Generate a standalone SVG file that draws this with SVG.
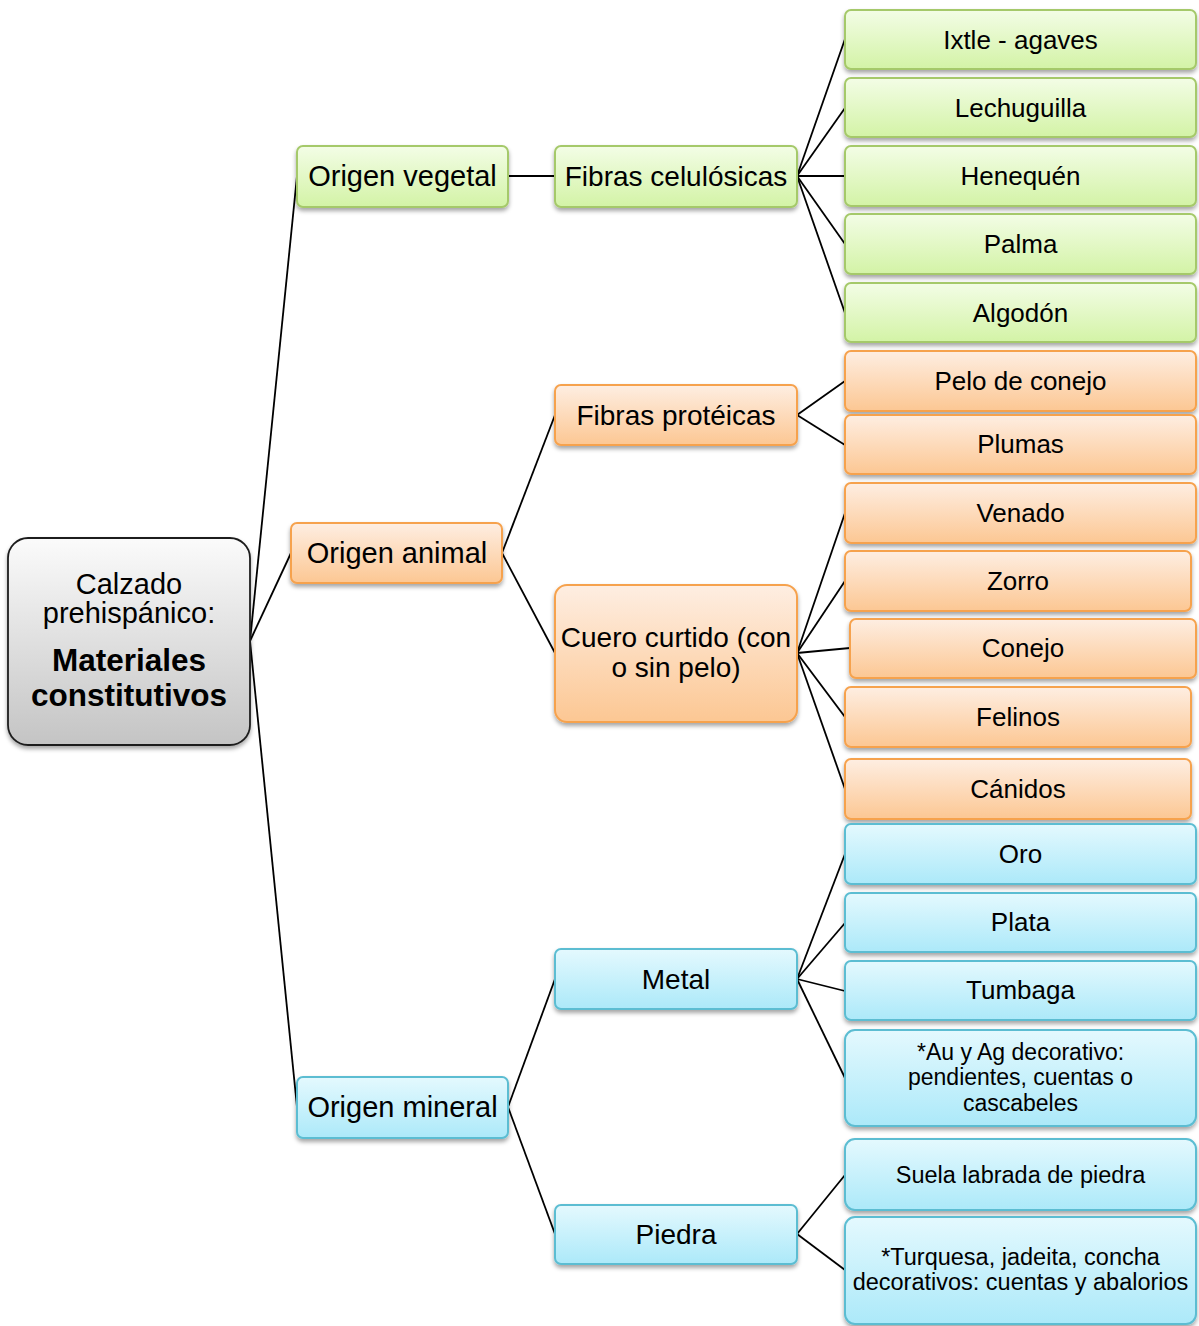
<svg xmlns="http://www.w3.org/2000/svg" width="1199" height="1326" viewBox="0 0 1199 1326">
<defs>
<linearGradient id="gG" x1="0" y1="0" x2="0" y2="1"><stop offset="0" stop-color="#f3fde6"/><stop offset="1" stop-color="#d3f3a6"/></linearGradient>
<linearGradient id="gO" x1="0" y1="0" x2="0" y2="1"><stop offset="0" stop-color="#feeee2"/><stop offset="1" stop-color="#fcc793"/></linearGradient>
<linearGradient id="gB" x1="0" y1="0" x2="0" y2="1"><stop offset="0" stop-color="#e4f9fe"/><stop offset="1" stop-color="#ace9f9"/></linearGradient>
<linearGradient id="gR" x1="0" y1="0" x2="0" y2="1"><stop offset="0" stop-color="#fbfbfb"/><stop offset="1" stop-color="#c4c4c4"/></linearGradient>
<filter id="sh" x="-10%" y="-20%" width="120%" height="150%"><feDropShadow dx="0" dy="3" stdDeviation="2" flood-color="#000" flood-opacity="0.35"/></filter>
</defs>
<style>
text{font-family:"Liberation Sans",Arial,sans-serif;fill:#000;text-anchor:middle}
.g{fill:url(#gG);stroke:#a5c96a;stroke-width:2;filter:url(#sh)}
.o{fill:url(#gO);stroke:#f6a24e;stroke-width:2;filter:url(#sh)}
.b{fill:url(#gB);stroke:#5bbdd2;stroke-width:2;filter:url(#sh)}
.r{fill:url(#gR);stroke:#1e1e1e;stroke-width:1.8;filter:url(#sh)}
.l1{font-size:29px}.l2{font-size:28px}.l3{font-size:26px}.l4{font-size:23.5px}
.cn line{stroke:#000;stroke-width:1.8}
</style>
<g class="cn" id="connectors">
<line x1="250" y1="641" x2="297" y2="176"/>
<line x1="250" y1="641" x2="291" y2="553"/>
<line x1="250" y1="641" x2="297" y2="1107"/>
<line x1="508" y1="176" x2="555" y2="176"/>
<line x1="797" y1="176" x2="845" y2="39"/>
<line x1="797" y1="176" x2="845" y2="108"/>
<line x1="797" y1="176" x2="845" y2="176"/>
<line x1="797" y1="176" x2="845" y2="244"/>
<line x1="797" y1="176" x2="845" y2="313"/>
<line x1="502" y1="553" x2="555" y2="415"/>
<line x1="502" y1="553" x2="555" y2="653"/>
<line x1="797" y1="415" x2="845" y2="381"/>
<line x1="797" y1="415" x2="845" y2="445"/>
<line x1="797" y1="653" x2="845" y2="513"/>
<line x1="797" y1="653" x2="845" y2="581"/>
<line x1="797" y1="653" x2="850" y2="648"/>
<line x1="797" y1="653" x2="845" y2="717"/>
<line x1="797" y1="653" x2="845" y2="789"/>
<line x1="508" y1="1107" x2="555" y2="979"/>
<line x1="508" y1="1107" x2="555" y2="1234"/>
<line x1="797" y1="979" x2="845" y2="854"/>
<line x1="797" y1="979" x2="845" y2="923"/>
<line x1="797" y1="979" x2="845" y2="991"/>
<line x1="797" y1="979" x2="845" y2="1078"/>
<line x1="797" y1="1234" x2="845" y2="1175"/>
<line x1="797" y1="1234" x2="845" y2="1270"/>
</g>
<g id="root"><rect class="r" x="8" y="538" width="242" height="207" rx="20"/>
<text x="129" y="594" font-size="29px">Calzado</text>
<text x="129" y="623" font-size="29px">prehispánico:</text>
<text x="129" y="671" font-size="31.5px" font-weight="bold">Materiales</text>
<text x="129" y="706" font-size="31.5px" font-weight="bold">constitutivos</text></g>
<g id="origen-vegetal"><rect class="g" x="297" y="146" width="211" height="61" rx="6"/><text class="l1" x="402.5" y="186">Origen vegetal</text></g>
<g id="origen-animal"><rect class="o" x="291" y="523" width="211" height="60" rx="6"/><text class="l1" x="397" y="563">Origen animal</text></g>
<g id="origen-mineral"><rect class="b" x="297" y="1077" width="211" height="61" rx="6"/><text class="l1" x="402.5" y="1117">Origen mineral</text></g>
<g id="fibras-celulosicas"><rect class="g" x="555" y="146" width="242" height="61" rx="6"/><text class="l2" x="676" y="186">Fibras celulósicas</text></g>
<g id="fibras-proteicas"><rect class="o" x="555" y="385" width="242" height="60" rx="6"/><text class="l2" x="676" y="424.5">Fibras protéicas</text></g>
<g id="cuero-curtido"><rect class="o" x="555" y="585" width="242" height="137" rx="12"/><text class="l2" x="676" y="647">Cuero curtido (con</text><text class="l2" x="676" y="677">o sin pelo)</text></g>
<g id="metal"><rect class="b" x="555" y="949" width="242" height="60" rx="6"/><text class="l2" x="676" y="988.5">Metal</text></g>
<g id="piedra"><rect class="b" x="555" y="1205" width="242" height="59" rx="6"/><text class="l2" x="676" y="1244">Piedra</text></g>
<g id="ixtle"><rect class="g" x="845" y="10" width="351" height="59" rx="6"/><text class="l3" x="1020.5" y="48.5">Ixtle - agaves</text></g>
<g id="lechuguilla"><rect class="g" x="845" y="78" width="351" height="59" rx="6"/><text class="l3" x="1020.5" y="116.5">Lechuguilla</text></g>
<g id="henequen"><rect class="g" x="845" y="146" width="351" height="60" rx="6"/><text class="l3" x="1020.5" y="184.5">Henequén</text></g>
<g id="palma"><rect class="g" x="845" y="214" width="351" height="60" rx="6"/><text class="l3" x="1020.5" y="252.5">Palma</text></g>
<g id="algodon"><rect class="g" x="845" y="283" width="351" height="59" rx="6"/><text class="l3" x="1020.5" y="321.5">Algodón</text></g>
<g id="pelo-conejo"><rect class="o" x="845" y="351" width="351" height="60" rx="6"/><text class="l3" x="1020.5" y="389.5">Pelo de conejo</text></g>
<g id="plumas"><rect class="o" x="845" y="415" width="351" height="59" rx="6"/><text class="l3" x="1020.5" y="453">Plumas</text></g>
<g id="venado"><rect class="o" x="845" y="483" width="351" height="60" rx="6"/><text class="l3" x="1020.5" y="521.5">Venado</text></g>
<g id="zorro"><rect class="o" x="845" y="551" width="346" height="60" rx="6"/><text class="l3" x="1018" y="589.5">Zorro</text></g>
<g id="conejo"><rect class="o" x="850" y="619" width="346" height="59" rx="6"/><text class="l3" x="1023" y="657">Conejo</text></g>
<g id="felinos"><rect class="o" x="845" y="687" width="346" height="60" rx="6"/><text class="l3" x="1018" y="725.5">Felinos</text></g>
<g id="canidos"><rect class="o" x="845" y="759" width="346" height="60" rx="6"/><text class="l3" x="1018" y="797.5">Cánidos</text></g>
<g id="oro"><rect class="b" x="845" y="824" width="351" height="60" rx="6"/><text class="l3" x="1020.5" y="862.5">Oro</text></g>
<g id="plata"><rect class="b" x="845" y="893" width="351" height="59" rx="6"/><text class="l3" x="1020.5" y="931">Plata</text></g>
<g id="tumbaga"><rect class="b" x="845" y="961" width="351" height="59" rx="6"/><text class="l3" x="1020.5" y="999">Tumbaga</text></g>
<g id="au-ag"><rect class="b" x="845" y="1030" width="351" height="96" rx="10"/>
<text x="1020.5" y="1059.5" font-size="23px">*Au y Ag decorativo:</text>
<text x="1020.5" y="1085" font-size="23px">pendientes, cuentas o</text>
<text x="1020.5" y="1111" font-size="23px">cascabeles</text></g>
<g id="suela"><rect class="b" x="845" y="1139" width="351" height="71" rx="10"/><text class="l4" x="1020.5" y="1183">Suela labrada de piedra</text></g>
<g id="turquesa"><rect class="b" x="845" y="1217" width="351" height="107" rx="10"/>
<text class="l4" x="1020.5" y="1265">*Turquesa, jadeita, concha</text>
<text class="l4" x="1020.5" y="1290">decorativos: cuentas y abalorios</text></g>
</svg>
